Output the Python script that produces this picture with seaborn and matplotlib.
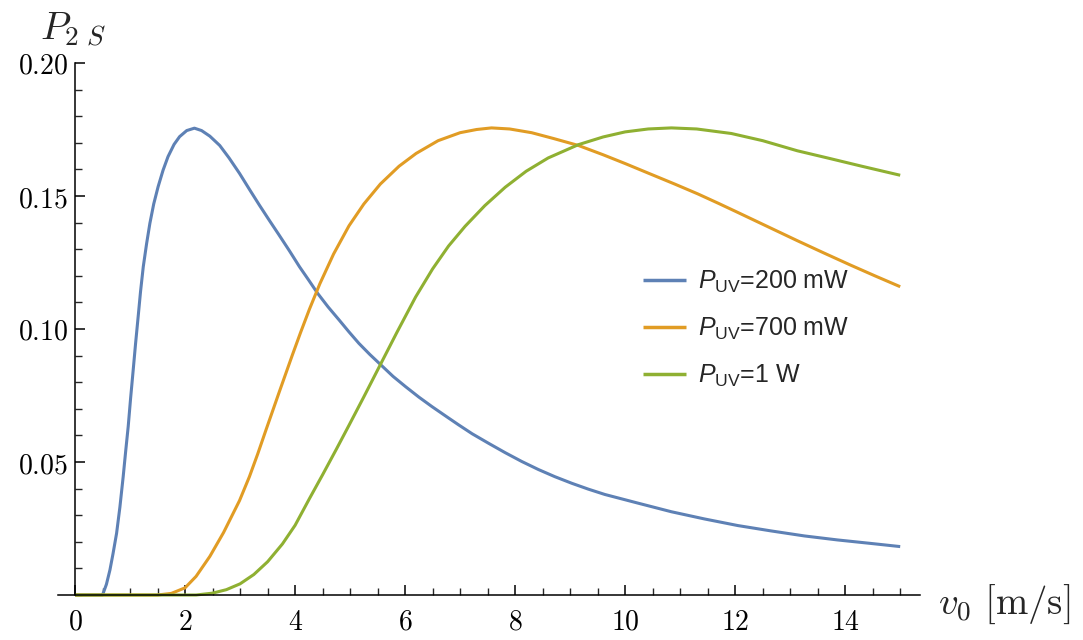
import numpy as np
import pandas as pd
import matplotlib
matplotlib.use("Agg")
import matplotlib.pyplot as plt
from matplotlib.font_manager import FontProperties
from matplotlib.ticker import FixedLocator, MultipleLocator, FuncFormatter
import seaborn as sns

# ---------------- data ----------------
v_blue = [0, 0.5, 0.51, 0.57, 0.634, 0.69, 0.755, 0.815, 0.875, 0.92, 0.966, 1.01, 1.057, 1.10,
          1.147, 1.19, 1.24, 1.30, 1.36, 1.43, 1.51, 1.60, 1.69, 1.80, 1.90, 2.03, 2.17, 2.30,
          2.45, 2.63, 2.80, 2.99, 3.17, 3.35, 3.53, 3.71, 3.90, 4.08, 4.25, 4.41, 4.60, 4.80,
          4.98, 5.16, 5.36, 5.56, 5.78, 6.01, 6.25, 6.49, 6.75, 6.97, 7.22, 7.52, 7.82, 8.12,
          8.42, 8.72, 9.03, 9.33, 9.63, 10.24, 10.84, 11.44, 12.05, 12.65, 13.26, 13.86,
          14.46, 15.0]
p_blue = [0, 0, 0.0006, 0.004, 0.0094, 0.0155, 0.0232, 0.033, 0.0445, 0.054, 0.0633, 0.074,
          0.0846, 0.0945, 0.1046, 0.114, 0.1234, 0.132, 0.1397, 0.147, 0.1535, 0.1597, 0.1648,
          0.1694, 0.1723, 0.1746, 0.1755, 0.1746, 0.1725, 0.1690, 0.1643, 0.1585, 0.1525,
          0.1466, 0.1409, 0.1353, 0.1293, 0.1234, 0.1183, 0.1134, 0.1083, 0.1034, 0.0989,
          0.0946, 0.0904, 0.0865, 0.0822, 0.0783, 0.0744, 0.0708, 0.0671, 0.0640, 0.0606,
          0.0570, 0.0535, 0.0502, 0.0472, 0.0445, 0.0420, 0.0398, 0.0378, 0.0345, 0.0313,
          0.0286, 0.0261, 0.0241, 0.0222, 0.0207, 0.0194, 0.0182]

v_orange = [0, 1.5, 1.75, 2.0, 2.2, 2.45, 2.7, 2.99, 3.17, 3.32, 3.47, 3.71, 3.95, 4.1, 4.26,
            4.45, 4.7, 4.98, 5.25, 5.55, 5.89, 6.2, 6.6, 7.0, 7.3, 7.57, 7.9, 8.3, 8.7, 9.15,
            9.6, 10.0, 10.42, 10.9, 11.32, 11.7, 12.05, 12.6, 13.13, 13.6, 14.1, 14.55, 15.0]
p_orange = [0, 0, 0.0006, 0.0027, 0.007, 0.0145, 0.0235, 0.0355, 0.0445, 0.053, 0.062,
            0.0762, 0.0902, 0.0987, 0.1074, 0.1170, 0.1282, 0.1388, 0.1470, 0.1545, 0.1612,
            0.1660, 0.1708, 0.1738, 0.1750, 0.1756, 0.1752, 0.1738, 0.1716, 0.1690, 0.1655,
            0.1622, 0.1586, 0.1545, 0.1508, 0.1472, 0.1438, 0.1384, 0.1332, 0.1287, 0.1240,
            0.1199, 0.1159]

v_green = [0, 2.2, 2.5, 2.75, 3.0, 3.25, 3.5, 3.77, 4.0, 4.26, 4.5, 4.75, 4.98, 5.25, 5.53,
           5.85, 6.19, 6.5, 6.79, 7.09, 7.45, 7.82, 8.2, 8.6, 9.15, 9.6, 10.0, 10.42, 10.84,
           11.3, 11.93, 12.5, 13.13, 13.7, 14.3, 15.0]
p_green = [0, 0, 0.0007, 0.002, 0.0042, 0.0077, 0.0125, 0.0192, 0.0262, 0.0362, 0.0452,
           0.0548, 0.0638, 0.0745, 0.0858, 0.0987, 0.1120, 0.1226, 0.1312, 0.1386, 0.1464,
           0.1533, 0.1593, 0.1643, 0.1693, 0.1722, 0.1741, 0.1752, 0.1756, 0.1752, 0.1735,
           0.1708, 0.1670, 0.1642, 0.1612, 0.1578]

series_labels = [r"$P_{\mathrm{UV}}$=200 mW", r"$P_{\mathrm{UV}}$=700 mW", r"$P_{\mathrm{UV}}$=1 W"]
series_colors = ["#5E81B5", "#E19C24", "#8FB032"]

x_ticks = [0, 2, 4, 6, 8, 10, 12, 14]
y_ticks = [0.05, 0.10, 0.15, 0.20]
y_tick_labels = ["0.05", "0.10", "0.15", "0.20"]

# ---------------- build long-form table ----------------
frames = []
for lab, v, p in zip(series_labels, [v_blue, v_orange, v_green], [p_blue, p_orange, p_green]):
    frames.append(pd.DataFrame({"v": v, "P": p, "series": lab}))
df = pd.concat(frames, ignore_index=True)

# ---------------- style ----------------
sns.set_style("ticks")
plt.rcParams["mathtext.fontset"] = "cm"
plt.rcParams["mathtext.rm"] = "Liberation Sans"
plt.rcParams["mathtext.it"] = "Liberation Sans:italic"

fig = plt.figure(figsize=(10.83, 6.4), dpi=100)
ax = fig.add_axes([58 / 1083, 1 - 595 / 640, (920 - 58) / 1083, (595 - 63) / 640])

sns.lineplot(data=df, x="v", y="P", hue="series", palette=series_colors,
             hue_order=series_labels, estimator=None, sort=False, linewidth=2.2,
             ax=ax, legend=True)
for ln in ax.get_lines():
    ln.set_clip_on(False)
    ln.set_solid_capstyle("butt")
    ln.set_solid_joinstyle("round")

ax.set_xlim(-0.31, 15.36)
ax.set_ylim(0, 0.2)

for s in ["top", "right"]:
    ax.spines[s].set_visible(False)
ax.spines["left"].set_position(("data", 0))
ax.spines["bottom"].set_position(("data", 0))
for s in ["left", "bottom"]:
    ax.spines[s].set_linewidth(1.1)
    ax.spines[s].set_color("black")

ax.xaxis.set_major_locator(FixedLocator(x_ticks))
ax.xaxis.set_minor_locator(MultipleLocator(0.5))
ax.yaxis.set_major_locator(FixedLocator(y_ticks))
ax.yaxis.set_minor_locator(MultipleLocator(0.01))
ax.xaxis.set_major_formatter(FuncFormatter(lambda val, pos: r"$%d$" % round(val)))
ax.yaxis.set_major_formatter(FuncFormatter(
    lambda val, pos: r"$%s$" % y_tick_labels[y_ticks.index(round(val, 2))] if round(val, 2) in y_ticks else ""))

ax.tick_params(axis="both", which="major", direction="in", length=7.5, width=1.1, labelsize=20, colors="black")
ax.tick_params(axis="both", which="minor", direction="in", length=4.8, width=1.0)
ax.tick_params(axis="x", which="major", pad=9)
ax.tick_params(axis="y", which="major", pad=5)
ax.set_xlabel("")
ax.set_ylabel("")
ax.grid(False)

# axis labels
fig.text(40 / 1083, 1 - 40 / 640, r"$P_{2\ S}$", fontsize=28, ha="left", va="baseline")
fig.text(938 / 1083, 1 - 614 / 640, r"$v_0\ [\mathrm{m/s}]$", fontsize=28, ha="left", va="baseline")

# legend
handles, _ = ax.get_legend_handles_labels()
legend_font = FontProperties(family="Liberation Sans", size=18, math_fontfamily="custom")
leg = ax.legend(handles[:3], series_labels, prop=legend_font, frameon=False,
                loc="upper left", bbox_to_anchor=(643 / 1083, 1 - 269 / 640),
                bbox_transform=fig.transFigure, handlelength=1.72, handletextpad=0.5,
                labelspacing=0.82, borderaxespad=0, borderpad=0)
for h in leg.get_lines():
    h.set_linewidth(2.5)

fig.savefig("out.png", dpi=100)
